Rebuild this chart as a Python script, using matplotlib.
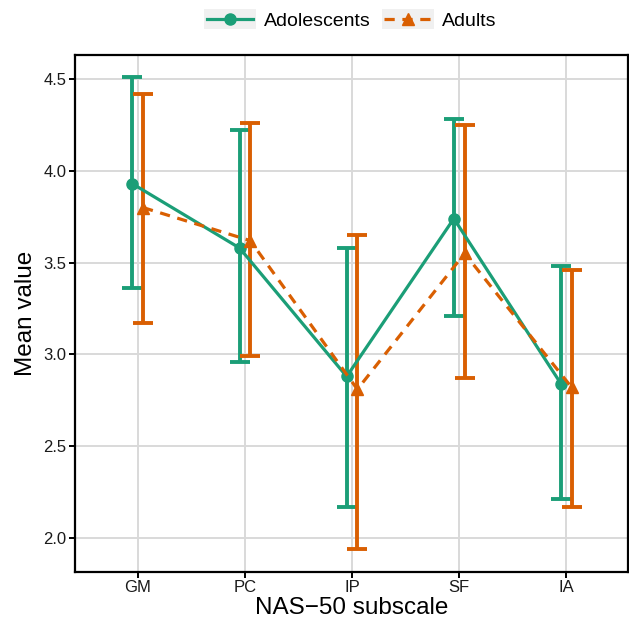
import matplotlib
matplotlib.use("Agg")
import matplotlib.pyplot as plt
from matplotlib.legend_handler import HandlerLine2D
from matplotlib.patches import Rectangle
import numpy as np

plt.rcParams['font.family'] = ['Liberation Sans', 'DejaVu Sans']

subscales = ["GM", "PC", "IP", "SF", "IA"]
adol_mean = [3.93, 3.58, 2.88, 3.74, 2.84]
adol_lo = [3.36, 2.96, 2.17, 3.21, 2.21]
adol_hi = [4.51, 4.22, 3.58, 4.28, 3.48]
adult_mean = [3.80, 3.62, 2.81, 3.55, 2.82]
adult_lo = [3.17, 2.99, 1.94, 2.87, 2.17]
adult_hi = [4.42, 4.26, 3.65, 4.25, 3.46]

green = "#1B9E77"
orange = "#D95F02"


class KeyHandler(HandlerLine2D):
    # grey key background like ggplot
    def create_artists(self, legend, orig_handle, xdescent, ydescent,
                       width, height, fontsize, trans):
        h = fontsize * 1.05
        rect = Rectangle((-xdescent - 2, -ydescent + height / 2 - h / 2),
                         width + 4, h, facecolor="#F0F0F0",
                         edgecolor="none", transform=trans)
        arts = super().create_artists(legend, orig_handle, xdescent, ydescent,
                                      width, height, fontsize, trans)
        return [rect] + list(arts)


fig = plt.figure(figsize=(6.29, 6.20), dpi=100)
ax = fig.add_axes([75 / 629, 48 / 620, 553 / 629, 517 / 620])

x = np.arange(len(subscales))
dodge = 0.05

for xs, m, lo, hi, col, mk, ls, lab in [
        (x - dodge, adol_mean, adol_lo, adol_hi, green, "o", "-", "Adolescents"),
        (x + dodge, adult_mean, adult_lo, adult_hi, orange, "^", (0, (3.2, 2.4)), "Adults")]:
    m = np.array(m)
    err = [m - np.array(lo), np.array(hi) - m]
    ax.errorbar(xs, m, yerr=err, fmt="none", ecolor=col, elinewidth=2.8,
                capsize=7.5, capthick=2.8, zorder=3)
    ax.plot(xs, m, color=col, linestyle=ls, linewidth=2.3, marker=mk,
            markersize=8, label=lab, zorder=4)

ax.set_xlim(-0.585, 4.575)
ax.set_ylim(1.815, 4.631)
ax.set_xticks(x)
ax.set_xticklabels(subscales)
ax.set_yticks([2.0, 2.5, 3.0, 3.5, 4.0, 4.5])
ax.set_yticklabels(["2.0", "2.5", "3.0", "3.5", "4.0", "4.5"])
ax.grid(True, color="#D9D9D9", linewidth=1.4)
ax.set_axisbelow(True)
for s in ax.spines.values():
    s.set_linewidth(1.6)
    s.set_color("black")
ax.tick_params(axis="both", length=4, width=1.4, color="black",
               labelsize=12, labelcolor="#1a1a1a", pad=2)

ax.set_xlabel("NAS\u221250 subscale", fontsize=17.5, labelpad=1)
ax.set_ylabel("Mean value", fontsize=17.5, labelpad=5)

handles, labels = ax.get_legend_handles_labels()
fig.legend(handles, labels, loc="center", bbox_to_anchor=(351.5 / 629, 1 - 21 / 620),
           ncol=2, frameon=False, fontsize=14, handlelength=2.4,
           handletextpad=0.55, columnspacing=0.7,
           handler_map={h: KeyHandler() for h in handles})

fig.savefig("out.png", dpi=100)
